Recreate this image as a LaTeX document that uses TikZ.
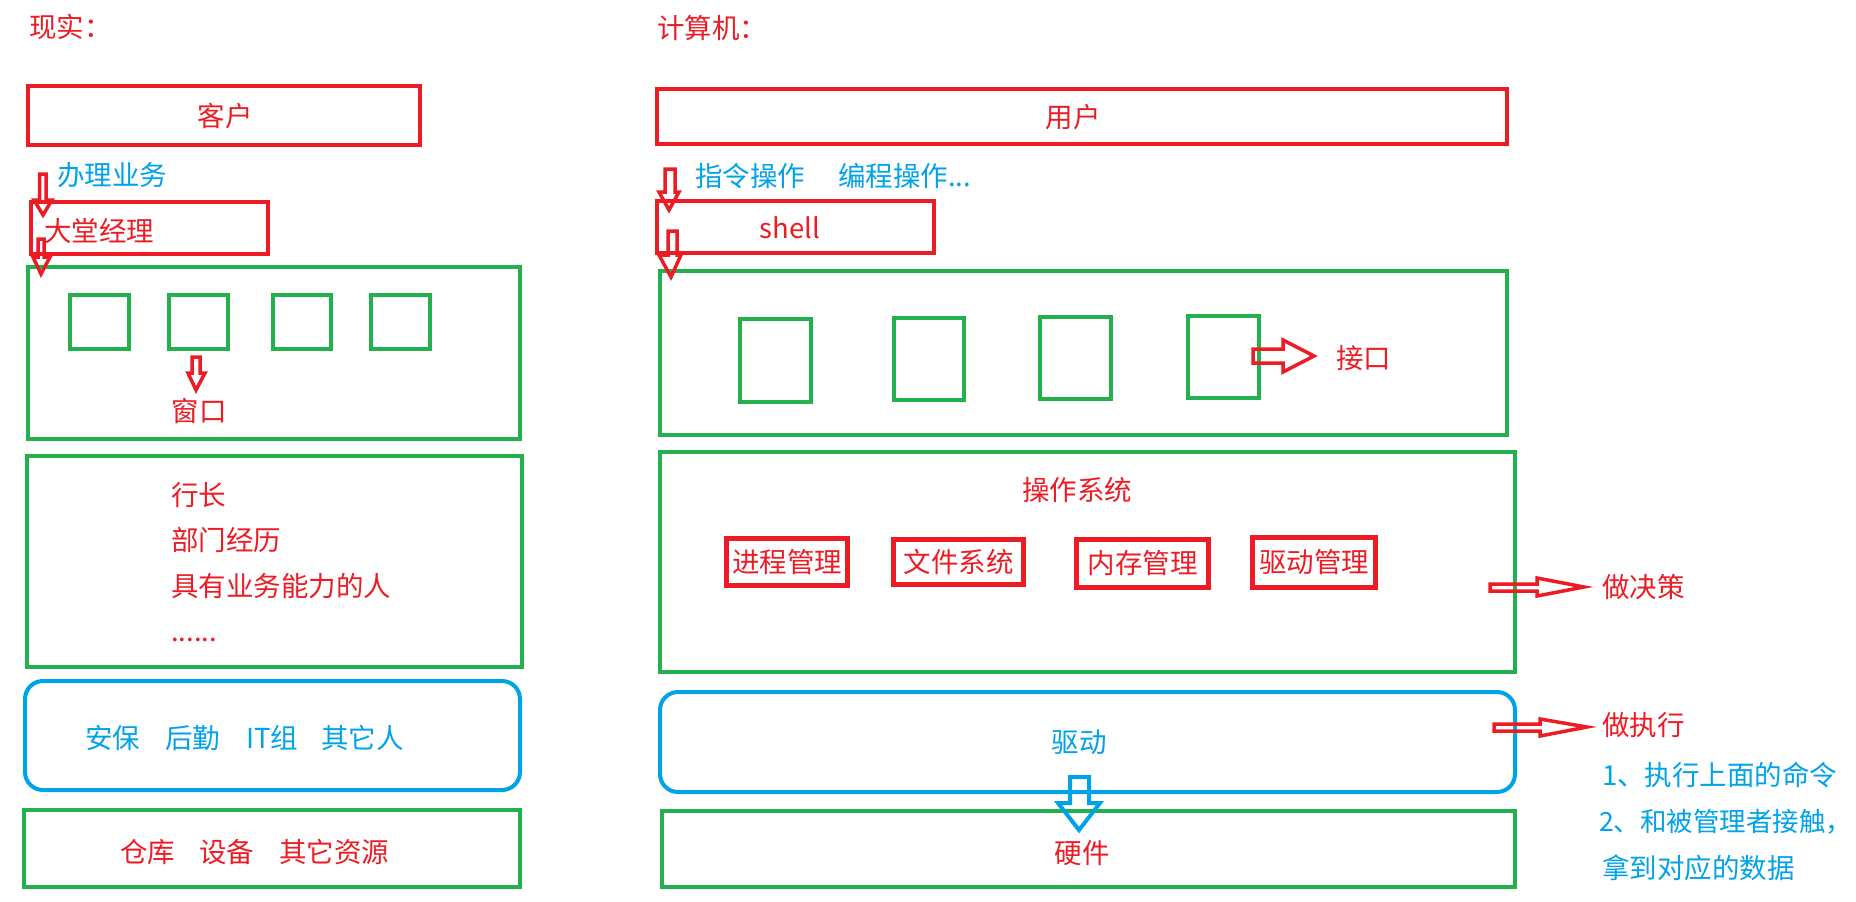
\documentclass[tikz,border=0pt]{standalone}
\usepackage{fontspec}
\newfontfamily\cjk{Noto Sans CJK SC}
\definecolor{pred}{HTML}{ED1C24}
\definecolor{pgreen}{HTML}{22B14C}
\definecolor{pblue}{HTML}{00A2E8}
\begin{document}
\begin{tikzpicture}[x=1pt,y=-1pt,
  every node/.style={font=\cjk\fontsize{27.5}{33}\selectfont, inner sep=0pt},
  gbox/.style={draw=pgreen, line width=4pt, anchor=north west},
  rbox/.style={draw=pred, line width=4pt, anchor=north west},
  mbox/.style={draw=pred, line width=5pt, anchor=north west},
  bbox/.style={draw=pblue, line width=4pt, anchor=north west, rounded corners=18pt},
  rt/.style={text=pred},
  bt/.style={text=pblue},
  rarr/.style={draw=pred, line width=3.5pt, line join=miter},
  barr/.style={draw=pblue, line width=4pt, line join=miter}]
\useasboundingbox (0,0) rectangle (1856,902);
\fill[white] (0,0) rectangle (1856,902);

% ---------- left: reality ----------
\node[rt, anchor=west] (titleL) at (29,27) {现实：};
\node[rbox, minimum width=392pt, minimum height=59pt] (kehu) at (26,84) {};
\node[rt] (kehuT) at (225,116) {客户};
\node[bt, anchor=west] (banli) at (57,175) {办理业务};
\node[rbox, minimum width=237pt, minimum height=52pt] (dtjl) at (29,200) {};
\node[rt, anchor=west] (dtjlT) at (44,231) {大堂经理};
\node[gbox, minimum width=492pt, minimum height=172pt] (win) at (26,265) {};
\node[gbox, minimum width=59pt, minimum height=54pt] (sq1) at (68,293) {};
\node[gbox, minimum width=59pt, minimum height=54pt] (sq2) at (167,293) {};
\node[gbox, minimum width=58pt, minimum height=54pt] (sq3) at (271,293) {};
\node[gbox, minimum width=59pt, minimum height=54pt] (sq4) at (369,293) {};
\node[rt] (chuangkou) at (199,411) {窗口};
\node[gbox, minimum width=495pt, minimum height=211pt] (staff) at (25,454) {};
\node[rt, anchor=west] (s1) at (171,495) {行长};
\node[rt, anchor=west] (s2) at (171,540) {部门经历};
\node[rt, anchor=west] (s3) at (171,586) {具有业务能力的人};
\node[rt, anchor=west] (s4) at (171,640) {......};
\node[bbox, minimum width=495pt, minimum height=109pt] (supp) at (23,679) {};
\node[bt, anchor=west] (p1) at (85,738) {安保};
\node[bt, anchor=west] (p2) at (165,738) {后勤};
\node[bt, anchor=west] (p3) at (246,738) {IT组};
\node[bt, anchor=west] (p4) at (321,738) {其它人};
\node[gbox, minimum width=496pt, minimum height=77pt] (res) at (22,808) {};
\node[rt, anchor=west] (q1) at (120,852) {仓库};
\node[rt, anchor=west] (q2) at (199,852) {设备};
\node[rt, anchor=west] (q3) at (279,852) {其它资源};

% hollow arrows (left)
\draw[rarr] (39.5,174) -- (46,174) -- (46,200) -- (52,200) -- (43,215) -- (34,200) -- (39.5,200) -- cycle;
\draw[rarr] (38,239) -- (44,239) -- (44,257) -- (50,257) -- (41,274) -- (33,257) -- (38,257) -- cycle;
\draw[rarr] (192,357) -- (200,357) -- (200,373) -- (205,373) -- (196,390) -- (188,373) -- (192,373) -- cycle;

% ---------- right: computer ----------
\node[rt, anchor=west] (titleR) at (657,28) {计算机：};
\node[rbox, minimum width=850pt, minimum height=55pt] (user) at (655,87) {};
\node[rt] (userT) at (1073,117) {用户};
\node[bt, anchor=west] (cmd) at (695,176) {指令操作};
\node[bt, anchor=west] (prog) at (838,176) {编程操作...};
\node[rbox, minimum width=277pt, minimum height=52pt] (shell) at (655,199) {};
\node[rt] (shellT) at (790,228) {shell};
\node[gbox, minimum width=847pt, minimum height=164pt] (iface) at (658,269) {};
\node[gbox, minimum width=71pt, minimum height=83pt] (r1) at (738,317) {};
\node[gbox, minimum width=70pt, minimum height=82pt] (r2) at (892,316) {};
\node[gbox, minimum width=71pt, minimum height=82pt] (r3) at (1038,315) {};
\node[gbox, minimum width=71pt, minimum height=82pt] (r4) at (1186,314) {};
\node[rt, anchor=west] (jiekou) at (1336,358) {接口};
\node[gbox, minimum width=855pt, minimum height=220pt] (os) at (658,450) {};
\node[rt] (osT) at (1077,490) {操作系统};
\node[mbox, minimum width=121pt, minimum height=47pt] (m1) at (724,536) {};
\node[rt] at (m1.center) {进程管理};
\node[mbox, minimum width=130pt, minimum height=45pt] (m2) at (891,537) {};
\node[rt] at (m2.center) {文件系统};
\node[mbox, minimum width=132pt, minimum height=48pt] (m3) at (1074,537) {};
\node[rt] at (m3.center) {内存管理};
\node[mbox, minimum width=123pt, minimum height=50pt] (m4) at (1250,535) {};
\node[rt] at (m4.center) {驱动管理};
\node[bbox, minimum width=855pt, minimum height=100pt] (drv) at (658,690) {};
\node[bt] (drvT) at (1079,742) {驱动};
\node[gbox, minimum width=853pt, minimum height=76pt] (hw) at (660,809) {};
\node[rt] (hwT) at (1082,853) {硬件};

\node[rt, anchor=west] (jc) at (1602,587) {做决策};
\node[rt, anchor=west] (zx) at (1602,725) {做执行};
\node[bt, anchor=west] (n1) at (1602,775) {1、执行上面的命令};
\node[bt, anchor=west, font=\cjk\fontsize{26.5}{32}\selectfont] (n2) at (1599,822) {2、和被管理者接触，};
\node[bt, anchor=west] (n3) at (1602,868) {拿到对应的数据};

% hollow arrows (right)
\draw[rarr] (665,169) -- (675,169) -- (675,192) -- (679,192) -- (669,210) -- (659,192) -- (665,192) -- cycle;
\draw[rarr] (668,231) -- (677,231) -- (677,255) -- (681,255) -- (671,277) -- (659,255) -- (668,255) -- cycle;
\draw[rarr] (1253,349) -- (1283,349) -- (1283,340) -- (1314,356) -- (1283,372) -- (1283,363) -- (1253,363) -- cycle;
\draw[rarr] (1490,584) -- (1537,584) -- (1537,578) -- (1584,587) -- (1537,596) -- (1537,591) -- (1490,591) -- cycle;
\draw[rarr] (1494,724) -- (1540,724) -- (1540,719) -- (1587,727) -- (1540,736) -- (1540,731) -- (1494,731) -- cycle;
\draw[barr] (1070,777) -- (1089,777) -- (1089,803) -- (1100,803) -- (1079,830) -- (1058,803) -- (1070,803) -- cycle;
\end{tikzpicture}
\end{document}
